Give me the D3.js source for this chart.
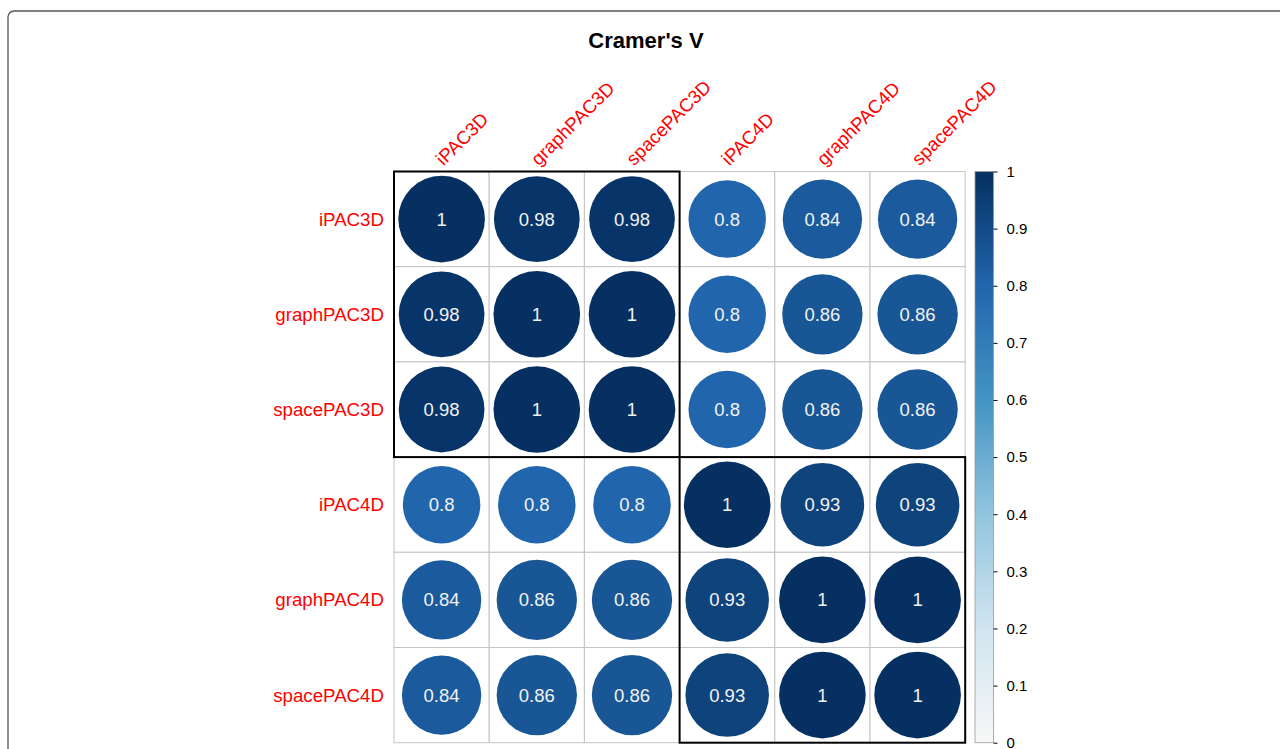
<!DOCTYPE html>
<html>
<head>
<meta charset="utf-8">
<script src="https://cdn.jsdelivr.net/npm/d3@7"></script>
<style>
  html, body { margin: 0; padding: 0; background: #fff; }
  svg { display: block; font-family: "Liberation Sans", Arial, Helvetica, sans-serif; }
</style>
</head>
<body>
<svg id="chart" width="1280" height="749"></svg>
<script>
// Variables compared pairwise
const variables = ["iPAC3D", "graphPAC3D", "spacePAC3D", "iPAC4D", "graphPAC4D", "spacePAC4D"];

// Cramer's V, one row per variable
const rowIPAC3D     = [1,    0.98, 0.98, 0.8,  0.84, 0.84];
const rowGraphPAC3D = [0.98, 1,    1,    0.8,  0.86, 0.86];
const rowSpacePAC3D = [0.98, 1,    1,    0.8,  0.86, 0.86];
const rowIPAC4D     = [0.8,  0.8,  0.8,  1,    0.93, 0.93];
const rowGraphPAC4D = [0.84, 0.86, 0.86, 0.93, 1,    1];
const rowSpacePAC4D = [0.84, 0.86, 0.86, 0.93, 1,    1];
const matrix = [rowIPAC3D, rowGraphPAC3D, rowSpacePAC3D, rowIPAC4D, rowGraphPAC4D, rowSpacePAC4D];

// Cluster blocks: [first index, last index]
const clusters = [[0, 2], [3, 5]];

// Colour legend ticks
const legendTicks = [0, 0.1, 0.2, 0.3, 0.4, 0.5, 0.6, 0.7, 0.8, 0.9, 1];

const svg = d3.select("#chart");

// Outer frame
svg.append("rect")
  .attr("x", 8).attr("y", 11)
  .attr("width", 1290).attr("height", 760)
  .attr("rx", 6).attr("ry", 6)
  .attr("fill", "none")
  .attr("stroke", "#555").attr("stroke-width", 1.3);

const gridLeft = 394, gridTop = 171.5, cell = 95.2;
const gridSize = cell * variables.length;

const x = d3.scaleBand().domain(variables).range([gridLeft, gridLeft + gridSize]);
const y = d3.scaleBand().domain(variables).range([gridTop, gridTop + gridSize]);

const color = d3.scaleLinear()
  .domain([0, 0.2, 0.4, 0.6, 0.8, 1])
  .range(["#F7F7F7", "#D1E5F0", "#92C5DE", "#4393C3", "#2166AC", "#053061"])
  .interpolate(d3.interpolateRgb);

const radius = d3.scaleSqrt().domain([0, 1]).range([0, cell * 0.455]);

// Title
svg.append("text")
  .attr("x", 646).attr("y", 48)
  .attr("text-anchor", "middle")
  .attr("font-size", 22).attr("font-weight", "bold")
  .attr("fill", "#000")
  .text("Cramer's V");

const cells = [];
matrix.forEach((row, i) => row.forEach((v, j) => cells.push({ r: variables[i], c: variables[j], v })));

// Grid cells
svg.append("g").selectAll("rect")
  .data(cells).join("rect")
  .attr("x", d => x(d.c)).attr("y", d => y(d.r))
  .attr("width", x.bandwidth()).attr("height", y.bandwidth())
  .attr("fill", "#fff")
  .attr("stroke", "#c4c4c4").attr("stroke-width", 1);

// Circles
svg.append("g").selectAll("circle")
  .data(cells).join("circle")
  .attr("cx", d => x(d.c) + x.bandwidth() / 2)
  .attr("cy", d => y(d.r) + y.bandwidth() / 2)
  .attr("r", d => radius(d.v))
  .attr("fill", d => color(d.v));

// Values
svg.append("g").selectAll("text")
  .data(cells).join("text")
  .attr("x", d => x(d.c) + x.bandwidth() / 2)
  .attr("y", d => y(d.r) + y.bandwidth() / 2 + 6.5)
  .attr("text-anchor", "middle")
  .attr("font-size", 18.5)
  .attr("fill", "#f2f2f2")
  .text(d => d3.format("")(d.v));

// Cluster rectangles
svg.append("g").selectAll("rect")
  .data(clusters).join("rect")
  .attr("x", d => x(variables[d[0]]))
  .attr("y", d => y(variables[d[0]]))
  .attr("width", d => x(variables[d[1]]) + x.bandwidth() - x(variables[d[0]]))
  .attr("height", d => y(variables[d[1]]) + y.bandwidth() - y(variables[d[0]]))
  .attr("fill", "none")
  .attr("stroke", "#000").attr("stroke-width", 2);

// Row labels
svg.append("g").selectAll("text")
  .data(variables).join("text")
  .attr("x", gridLeft - 10)
  .attr("y", d => y(d) + y.bandwidth() / 2 + 6.5)
  .attr("text-anchor", "end")
  .attr("font-size", 18.7)
  .attr("fill", "#ff0000")
  .text(d => d);

// Column labels, rotated
svg.append("g").selectAll("text")
  .data(variables).join("text")
  .attr("transform", d => `translate(${x(d) + x.bandwidth() / 2 + 2},${gridTop - 5}) rotate(-45)`)
  .attr("text-anchor", "start")
  .attr("font-size", 18.7)
  .attr("fill", "#ff0000")
  .text(d => d);

// Colour legend
const barX = 975, barW = 18.5;
const legendY = d3.scaleLinear().domain([0, 1]).range([gridTop + gridSize, gridTop]);

const defs = svg.append("defs");
const grad = defs.append("linearGradient")
  .attr("id", "legendGrad")
  .attr("x1", 0).attr("y1", 1).attr("x2", 0).attr("y2", 0);
d3.range(0, 1.0001, 0.05).forEach(t => {
  grad.append("stop").attr("offset", t).attr("stop-color", color(t));
});

svg.append("rect")
  .attr("x", barX).attr("y", legendY(1))
  .attr("width", barW).attr("height", legendY(0) - legendY(1))
  .attr("fill", "url(#legendGrad)")
  .attr("stroke", "#999").attr("stroke-width", 0.8);

const legendAxis = d3.axisRight(legendY)
  .tickValues(legendTicks)
  .tickSize(4)
  .tickSizeOuter(0)
  .tickPadding(9)
  .tickFormat(d3.format(""));

const axisG = svg.append("g")
  .attr("transform", `translate(${barX + barW},0)`)
  .call(legendAxis);
axisG.select(".domain").remove();
axisG.selectAll(".tick line").attr("stroke", "#000");
axisG.selectAll(".tick text")
  .attr("font-size", 15)
  .attr("font-family", "'Liberation Sans', Arial, Helvetica, sans-serif")
  .attr("fill", "#000");
</script>
</body>
</html>
